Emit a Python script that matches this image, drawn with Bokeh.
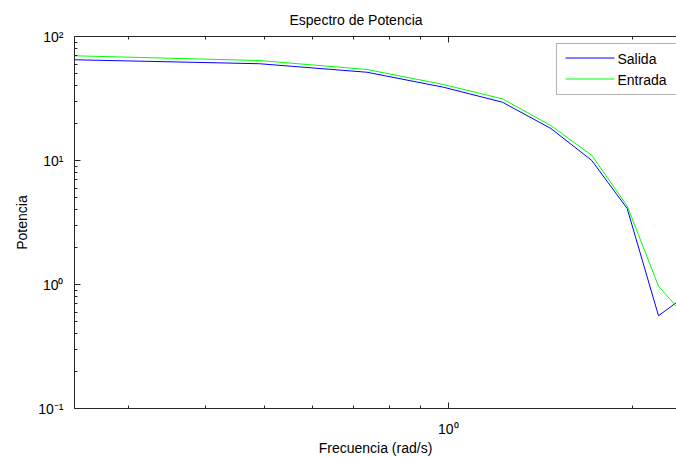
from bokeh.plotting import figure
from bokeh.models import (FixedTicker, LogAxis, CustomJSTickFormatter, Label,
                          Range1d, BoxAnnotation)
from bokeh.embed import file_html
from bokeh.resources import INLINE

# ---- data ----
freq = [0.245, 0.491, 0.736, 0.982, 1.227, 1.473, 1.718, 1.963, 2.209, 2.454]
salida = [64.9, 60.3, 51.5, 39.0, 29.5, 18.1, 10.0, 4.1, 0.56, 0.82]
entrada = [69.9, 64.0, 54.2, 41.0, 31.4, 19.1, 11.0, 4.3, 0.97, 0.54]

series_names = ["Salida", "Entrada"]
series_colors = ["blue", "lime"]

x_major = [1.0]
x_minor = [0.3, 0.4, 0.5, 0.6, 0.7, 0.8, 0.9, 2.0]
y_major = [0.1, 1.0, 10.0, 100.0]
y_minor = [0.2, 0.3, 0.4, 0.5, 0.6, 0.7, 0.8, 0.9,
           2, 3, 4, 5, 6, 7, 8, 9,
           20, 30, 40, 50, 60, 70, 80, 90]

FONT = "Liberation Sans"
AXC = "#262626"

p = figure(width=676, height=458, x_axis_type="log", y_axis_type="log",
           x_range=Range1d(0.2445, 2.364), y_range=Range1d(0.1, 100),
           output_backend="svg", toolbar_location=None,
           min_border_left=74, min_border_top=36, min_border_right=0,
           min_border_bottom=50, background_fill_color="white",
           border_fill_color="white")
p.outline_line_color = None
p.xgrid.visible = False
p.ygrid.visible = False

sup_fmt = CustomJSTickFormatter(code="""
const sup = {'-':'\u207b','0':'\u2070','1':'\u00b9','2':'\u00b2','3':'\u00b3',
             '4':'\u2074','5':'\u2075','6':'\u2076','7':'\u2077','8':'\u2078','9':'\u2079'};
const e = Math.round(Math.log10(tick));
return '10' + String(e).split('').map(c => sup[c]).join('');
""")

def style_axis(ax):
    ax.axis_line_color = AXC
    ax.major_tick_line_color = AXC
    ax.minor_tick_line_color = AXC
    ax.major_tick_in = 6
    ax.major_tick_out = 0
    ax.minor_tick_in = 3
    ax.minor_tick_out = 0
    ax.major_label_text_font = FONT
    ax.major_label_text_font_size = "14px"
    ax.major_label_text_color = "black"
    ax.axis_label_text_font = FONT
    ax.axis_label_text_font_size = "14px"
    ax.axis_label_text_font_style = "normal"
    ax.axis_label_text_color = "black"

xa = p.xaxis[0]
xa.ticker = FixedTicker(ticks=x_major, minor_ticks=x_minor)
xa.formatter = sup_fmt
xa.axis_label = "Frecuencia (rad/s)"
style_axis(xa)
xa.major_label_standoff = 12
xa.axis_label_standoff = 0

ya = p.yaxis[0]
ya.ticker = FixedTicker(ticks=y_major, minor_ticks=y_minor)
ya.formatter = sup_fmt
ya.axis_label = "Potencia"
style_axis(ya)
ya.major_label_standoff = 11
ya.axis_label_standoff = 5

top = LogAxis(ticker=FixedTicker(ticks=x_major, minor_ticks=x_minor),
              formatter=CustomJSTickFormatter(code="return ''"))
style_axis(top)
top.major_label_standoff = 0
top.major_label_text_font_size = "0px"
p.add_layout(top, "above")

p.line(freq, salida, line_color=series_colors[0], line_width=1)
p.line(freq, entrada, line_color=series_colors[1], line_width=1)

# ---- legend, built from screen-unit annotations (px from frame bottom-left)
SU = dict(left_units="screen", right_units="screen",
          bottom_units="screen", top_units="screen")
p.add_layout(BoxAnnotation(left=482, right=620, bottom=314, top=365,
                           fill_color="white", fill_alpha=1.0,
                           line_color="black", line_width=1, **SU))
row_y = [350, 329]          # row centres
for name, color, ry in zip(series_names, series_colors, row_y):
    p.add_layout(BoxAnnotation(left=491, right=540, bottom=ry,
                               top=ry + 1, fill_color=color, fill_alpha=1.0,
                               line_color=None, **SU))
    p.add_layout(Label(x=543, y=ry, x_units="screen", y_units="screen",
                       text=name, text_font=FONT, text_font_size="14px",
                       text_color="black", text_baseline="middle",
                       text_align="left"))

p.title.text = "Espectro de Potencia"
p.title.align = "left"
p.title.offset = 215
p.title.standoff = 17
p.title.text_font = FONT
p.title.text_font_size = "14px"
p.title.text_font_style = "normal"
p.title.text_color = "black"

open("out.html", "w").write(file_html(p, INLINE))
